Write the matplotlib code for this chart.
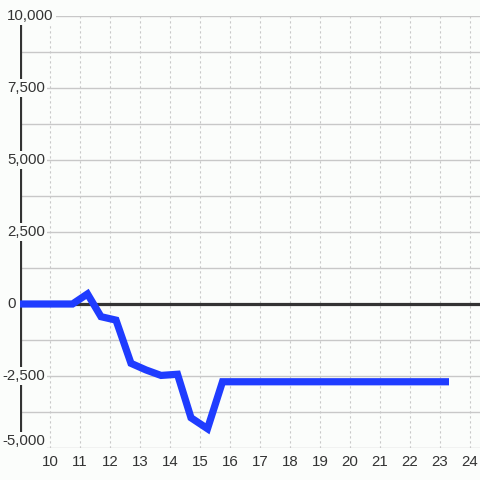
#!/usr/bin/env python
# coding: utf-8
"""
Single blue line over a light grid, values from -5,000 to 10,000.
"""
import numpy as np
from matplotlib import pyplot as plt
from matplotlib.transforms import blended_transform_factory

# hours and values of the series
HOURS = [9, 10.75, 11.25, 11.7, 12.2, 12.7, 13.2, 13.7, 14.25, 14.7, 15.25, 15.75, 23.3]
VALUES = [0, 0, 350, -440, -560, -2060, -2290, -2480, -2440, -3950, -4330, -2700, -2700]

X_TICKS = list(range(10, 25))
Y_TICKS = [10000, 7500, 5000, 2500, 0, -2500, -5000]
Y_GRID = list(range(-5000, 10001, 1250))

BG = '#fbfdfb'
TEXT = '#333333'


def label(v):
    return '{:,}'.format(v)


plt.rcParams['font.family'] = ['Liberation Sans', 'DejaVu Sans']
fig = plt.figure(figsize=(4.8, 4.8), dpi=100, facecolor=BG)
ax = fig.add_axes([20 / 480, 32 / 480, 460 / 480, 432 / 480], facecolor=BG)

ax.set_xlim(9, 9 + 460 / 30)
ax.set_ylim(-5000, 10000)

# grid
for y in Y_GRID:
    ax.axhline(y, color='#c8c8c8', lw=1, zorder=1)
for x in X_TICKS:
    ax.axvline(x, color='#c8c8c8', lw=0.8, ls=(0, (2, 2.5)), zorder=1)

ax.axhline(0, color=TEXT, lw=2.3, zorder=2)
ax.axvline(9, color=TEXT, lw=2.3, zorder=2)

ax.plot(HOURS, VALUES, color='#1f3cff', lw=5.2, solid_joinstyle='miter',
        solid_capstyle='butt', zorder=3)

for s in ax.spines.values():
    s.set_visible(False)
ax.set_yticks([])
ax.set_xticks(X_TICKS)
ax.set_xticklabels([str(x) for x in X_TICKS], fontsize=10.8, color=TEXT)
ax.tick_params(axis='x', length=0, pad=5)

trans = blended_transform_factory(fig.transFigure, ax.transData)
for v in Y_TICKS:
    xpos = 2 / 480 if v < 0 else 7 / 480
    va = 'bottom' if v == -5000 else 'center'
    ax.text(xpos, v, label(v), transform=trans, ha='left', va=va,
            fontsize=10.8, color=TEXT, zorder=5, clip_on=False,
            bbox=dict(facecolor=BG, edgecolor='none', pad=1.5))

plt.savefig('out.png', dpi=100, facecolor=BG)
